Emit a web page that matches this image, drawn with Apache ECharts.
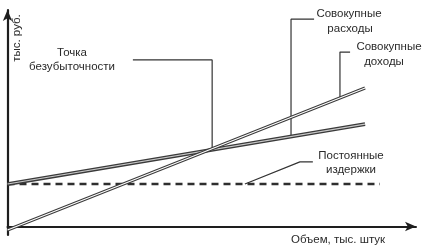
<!DOCTYPE html>
<html>
<head>
<meta charset="utf-8">
<script src="https://cdn.jsdelivr.net/npm/echarts@6/dist/echarts.min.js"></script>
<style>
  html, body { margin: 0; padding: 0; background: #fff; }
  #chart { width: 431px; height: 247px; }
</style>
</head>
<body>
<div id="chart"></div>
<script>
// Break-even chart: revenue, total costs and fixed costs against output volume
const volume = [0, 88.4];
const revenue = [-1.65, 65.2];      // Совокупные доходы
const totalCosts = [20, 48.2];      // Совокупные расходы
const fixedVolume = [0, 92.1];
const fixedCosts = [20, 20];        // Постоянные издержки

const xAxisName = 'Объем, тыс. штук';
const yAxisName = 'тыс. руб.';

// value of a straight line (two points) at a given volume
function lineAt(xs, ys, x) {
  return ys[0] + (ys[1] - ys[0]) * (x - xs[0]) / (xs[1] - xs[0]);
}

// callout leader lines, anchored on the plotted lines
const beX = 50.6;
const leaderBreakEven = [[beX, lineAt(volume, totalCosts, beX)], [beX, 78.4], [31, 78.4]];
const tcX = 70.1;
const leaderCosts = [[tcX, lineAt(volume, totalCosts, tcX)], [tcX, 97.6], [75.8, 97.6]];
const trX = 82.2;
const leaderRevenue = [[trX, lineAt(volume, revenue, trX)], [trX, 82.1], [84.7, 82.1]];
const leaderFixed = [[58.7, fixedCosts[0]], [72.3, 30.4], [75.5, 30.4]];

const pairs = (xs, ys) => xs.map((x, i) => [x, ys[i]]);

function doubleLine(data, outerW, innerW, innerColor, z) {
  return [
    { type: 'line', data, symbol: 'none', silent: true, z,
      lineStyle: { color: '#3a3a3a', width: outerW } },
    { type: 'line', data, symbol: 'none', silent: true, z: z + 1,
      lineStyle: { color: innerColor, width: innerW } }
  ];
}
function leader(data) {
  return { type: 'line', data, symbol: 'none', silent: true, z: 1,
    lineStyle: { color: '#333', width: 1.2 } };
}

const font = '"Liberation Sans", Arial, sans-serif';
const txt = (x, y, text, extra) => Object.assign({
  type: 'text', x, y,
  style: { text, font: '11.5px ' + font, fill: '#2a2a2a', align: 'center', verticalAlign: 'middle' }
}, extra || {});

const chart = echarts.init(document.getElementById('chart'), null, { renderer: 'canvas' });
chart.setOption({
  animation: false,
  backgroundColor: '#fff',
  grid: { left: 7.5, right: 15, top: 10, bottom: 12 },
  xAxis: {
    type: 'value', min: 0, max: 101,
    axisLine: { onZero: true, lineStyle: { color: '#1e1e1e', width: 2 },
      symbol: ['none', 'arrow'], symbolSize: [7, 11] },
    axisTick: { show: false }, axisLabel: { show: false }, splitLine: { show: false }
  },
  yAxis: {
    type: 'value', min: -4, max: 101.9,
    axisLine: { onZero: false, lineStyle: { color: '#1e1e1e', width: 2.2 },
      symbol: ['none', 'arrow'], symbolSize: [7, 11] },
    axisTick: { show: false }, axisLabel: { show: false }, splitLine: { show: false }
  },
  series: [
    leader(leaderBreakEven),
    leader(leaderCosts),
    leader(leaderRevenue),
    leader(leaderFixed),
    { type: 'line', data: pairs(fixedVolume, fixedCosts), symbol: 'none', silent: true, z: 2,
      lineStyle: { color: '#2e2e2e', width: 2.6, type: [7, 5] } },
    ...doubleLine(pairs(volume, totalCosts), 3.8, 1.2, '#c8c8c8', 3),
    ...doubleLine(pairs(volume, revenue), 3.2, 1.1, '#ffffff', 5)
  ],
  graphic: [
    txt(72, 53, 'Точка'),
    txt(72, 67, 'безубыточности'),
    txt(349, 14, 'Совокупные'),
    txt(350, 29, 'расходы'),
    txt(389, 47, 'Совокупные'),
    txt(384, 62, 'доходы'),
    txt(351, 156, 'Постоянные'),
    txt(351, 170, 'издержки'),
    txt(338, 240, xAxisName),
    txt(17, 38, yAxisName, { rotation: Math.PI / 2 })
  ]
});
</script>
</body>
</html>
